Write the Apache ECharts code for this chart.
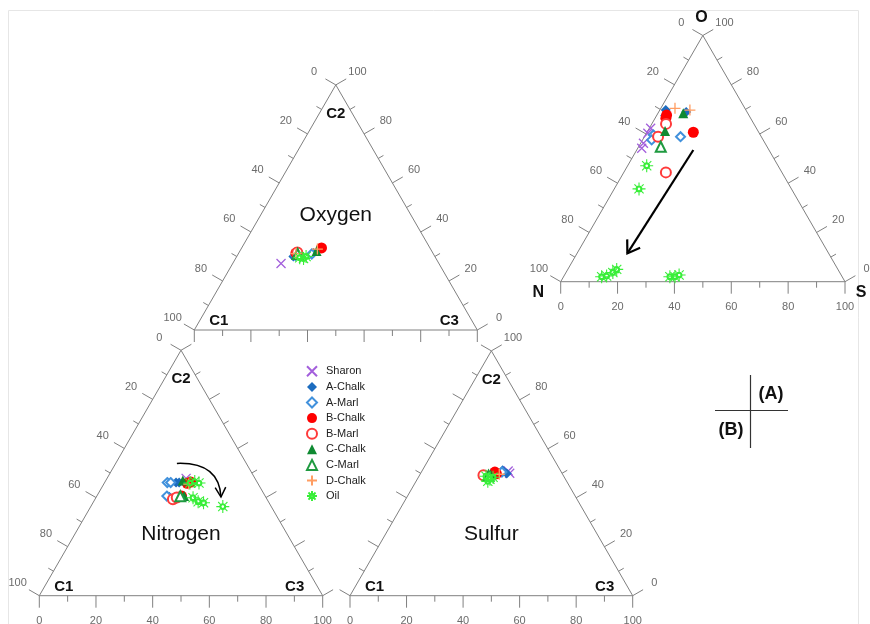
<!DOCTYPE html>
<html><head><meta charset="utf-8">
<script src="https://cdn.jsdelivr.net/npm/echarts@6/dist/echarts.min.js"></script>
<style>html,body{margin:0;padding:0;background:#fff}#c{width:870px;height:624px}</style>
</head><body><div id="c"></div>
<script>
// ---------------- DATA ----------------
const groups = ['Sharon','A-Chalk','A-Marl','B-Chalk','B-Marl','C-Chalk','C-Marl','D-Chalk','Oil'];

// (A) N-O-S diagram, composition [N, O, S] %
const nosPoints = [
  ['Sharon',37.2,62.3,0.5],['Sharon',39.2,60.3,0.5],['Sharon',42.8,56.2,1.0],['Sharon',44.4,54.2,1.4],
  ['A-Chalk',28.2,69.7,2.1],['A-Chalk',21.4,68.9,9.7],['A-Chalk',29.5,67.5,3.0],
  ['A-Marl',28.4,58.9,12.7],['A-Marl',37.6,59.6,2.8],['A-Marl',39.2,57.6,3.2],
  ['B-Chalk',28.9,67.7,3.4],['B-Chalk',29.8,66.4,3.8],['B-Chalk',23.0,60.7,16.3],
  ['B-Marl',30.9,64.1,5.0],['B-Marl',36.3,58.9,4.8],['B-Marl',40.8,44.4,14.8],
  ['C-Chalk',22.7,68.4,8.9],['C-Chalk',32.7,61.2,6.1],
  ['C-Marl',37.4,54.8,7.8],
  ['D-Chalk',24.6,70.4,5.0],['D-Chalk',19.7,69.7,10.6],
  ['Oil',46.2,47.1,6.7],['Oil',53.6,37.7,8.7],['Oil',84.6,2.0,13.4],['Oil',82.7,2.3,15.0],
  ['Oil',79.8,3.7,16.5],['Oil',77.8,5.0,17.2],['Oil',60.6,2.0,37.4],['Oil',58.8,2.0,39.2],['Oil',57.0,2.7,40.3]
];
// Oxygen diagram, composition [C1, C2, C3] %
const oxyPoints = [
  ['Sharon',55.8,27.1,17.1],
  ['A-Chalk',50.0,30.0,20.0],['A-Chalk',42.2,31.4,26.4],
  ['A-Marl',49.0,30.5,20.5],['A-Marl',43.0,31.0,26.0],
  ['B-Chalk',48.4,31.4,20.2],['B-Chalk',38.3,33.5,28.2],
  ['B-Marl',47.8,31.6,20.6],
  ['C-Chalk',47.6,31.8,20.6],['C-Chalk',40.7,32.2,27.1],
  ['C-Marl',48.0,31.0,21.0],
  ['D-Chalk',48.5,31.2,20.3],['D-Chalk',40.0,33.0,27.0],
  ['Oil',46.8,29.2,24.0],['Oil',48.0,29.5,22.5],['Oil',45.5,30.0,24.5]
];
// Nitrogen diagram, composition [C1, C2, C3] %
const nitPoints = [
  ['Sharon',24.3,47.8,27.9],
  ['A-Chalk',28.7,46.1,25.2],['A-Chalk',27.6,46.1,26.3],['A-Chalk',34.0,40.3,25.7],
  ['A-Marl',31.8,46.1,22.1],['A-Marl',30.6,46.1,23.3],['A-Marl',34.7,40.6,24.7],
  ['B-Chalk',24.9,45.8,29.3],['B-Chalk',23.4,46.3,30.3],['B-Chalk',29.5,40.6,29.9],
  ['B-Marl',33.2,39.3,27.5],['B-Marl',31.5,40.0,28.5],
  ['C-Chalk',25.9,46.9,27.2],['C-Chalk',28.6,40.6,30.8],
  ['C-Marl',30.0,40.5,29.5],
  ['D-Chalk',24.5,45.5,30.0],
  ['Oil',23.9,45.9,30.2],['Oil',21.9,46.5,31.6],['Oil',20.7,45.9,33.4],
  ['Oil',25.8,39.9,34.3],['Oil',24.8,38.3,36.9],['Oil',23.1,37.9,39.0],['Oil',17.1,36.3,46.6]
];
// Sulfur diagram, composition [C1, C2, C3] %
const sulPoints = [
  ['Sharon',18.6,50.9,30.5],['Sharon',18.5,50.0,31.5],
  ['A-Chalk',20.4,51.2,28.4],['A-Chalk',19.6,49.9,30.5],
  ['A-Marl',21.0,50.5,28.5],
  ['B-Chalk',23.5,50.5,26.0],['B-Chalk',23.3,49.8,26.9],
  ['B-Marl',28.2,49.2,22.6],
  ['C-Chalk',25.5,49.5,25.0],
  ['C-Marl',26.5,49.0,24.5],
  ['D-Chalk',22.4,49.6,28.0],
  ['Oil',27.5,48.8,23.7],['Oil',26.7,47.6,25.7],['Oil',25.2,48.4,26.4],['Oil',27.9,46.7,25.4]
];
// trend arrows (compositions): (A) start, end ; Nitrogen start, control, end
const arrowNOS = [[26.6,53.5,19.9],[70.8,11.5,17.7]];
const arrowNit = [[24.5,53.9,21.6],[9.3,54.5,36.2],[15.8,40.2,44.0]];
const tickValues = [0,10,20,30,40,50,60,70,80,90,100];

// ---------------- STYLE / LAYOUT ----------------
const SQ = Math.sqrt(3)/2;
const FONT = '"Liberation Sans", Arial, sans-serif';
const X_PATH = 'path://M0,0L10,10M10,0L0,10';
const PLUS_PATH = 'path://M5,0L5,10M0,5L10,5';
const SUN_PATH = 'path://M10,0L10,5.6M10,14.4L10,20M0,10L5.6,10M14.4,10L20,10M2.93,2.93L6.04,6.04M13.96,13.96L17.07,17.07M17.07,2.93L13.96,6.04M6.04,13.96L2.93,17.07M14.4,10A4.4,4.4,0,1,0,5.6,10A4.4,4.4,0,1,0,14.4,10ZM12.9,10A2.9,2.9,0,1,1,7.1,10A2.9,2.9,0,1,1,12.9,10Z';
const gStyle = {
  'Sharon':  {symbol:X_PATH, size:9, color:'#a35fdc', bw:1.3},
  'A-Chalk': {symbol:'diamond', size:10, color:'#1c6cbf'},
  'A-Marl':  {symbol:'emptyDiamond', size:9, color:'#4191dc', bw:1.3},
  'B-Chalk': {symbol:'circle', size:11, color:'#ff0000'},
  'B-Marl':  {symbol:'emptyCircle', size:10, color:'#ff3b3b', bw:1.3},
  'C-Chalk': {symbol:'triangle', size:10, color:'#0f8a32'},
  'C-Marl':  {symbol:'emptyTriangle', size:10, color:'#1f9a40', bw:1.3},
  'D-Chalk': {symbol:PLUS_PATH, size:11, color:'#ff9d62', bw:1.3},
  'Oil':     {symbol:SUN_PATH, size:13, color:'#38ee38', bw:1.1}
};
const panels = [
  {pts:nosPoints, left:560.7, base:281.7, side:284.3, lab:{left:1,right:1,bottom:1}, corners:'NOS'},
  {pts:oxyPoints, left:194.3, base:330.0, side:283.0, lab:{left:1,right:1,bottom:0}, title:'Oxygen', titleY:40.6},
  {pts:nitPoints, left:39.3, base:595.7, side:283.4, lab:{left:1,right:0,bottom:1}, title:'Nitrogen', titleY:21.8},
  {pts:sulPoints, left:350.0, base:595.7, side:282.7, lab:{left:0,right:1,bottom:1}, title:'Sulfur', titleY:21.8}
];

function toXY(c){ const s=c[0]+c[1]+c[2]; const t=c[1]/s*100, r=c[2]/s*100; return [r+t/2, t*SQ]; }

function txt(x,y,text,font,fill){
  return {type:'text', x:x, y:y, style:{text:text, font:font, fill:fill, align:'center', verticalAlign:'middle'}};
}
function ln(a,b,stroke,w){ return {type:'line', shape:{x1:a[0],y1:a[1],x2:b[0],y2:b[1]}, style:{stroke:stroke,lineWidth:w}}; }
function head(E, from, len, ang, w){
  let dx=E[0]-from[0], dy=E[1]-from[1]; const L=Math.hypot(dx,dy); dx/=L; dy/=L;
  const bx=-dx, by=-dy;
  const r = a => [E[0]+len*(bx*Math.cos(a)-by*Math.sin(a)), E[1]+len*(bx*Math.sin(a)+by*Math.cos(a))];
  return {type:'polyline', shape:{points:[r(ang),E,r(-ang)]}, style:{stroke:'#000',lineWidth:w,fill:'none'}};
}

function frameRender(p){
  return function(params, api){
    const P = (x,y)=>api.coord([x,y]);
    const ch = [];
    const gray = '#808080';
    const v0=P(0,0), v1=P(100,0), v2=P(50,100*SQ);
    ch.push(ln(v0,v1,gray,1), ln(v1,v2,gray,1), ln(v2,v0,gray,1));
    tickValues.forEach(v=>{
      const major = v%20===0, len = major?12:6;
      const axes = [
        {k:'left', pt:P((100-v)/2,(100-v)*SQ), n:[-SQ,-0.5]},
        {k:'right', pt:P(100-v/2, v*SQ), n:[SQ,-0.5]},
        {k:'bottom', pt:P(v,0), n:[0,1]}
      ];
      axes.forEach(a=>{
        ch.push(ln(a.pt,[a.pt[0]+a.n[0]*len, a.pt[1]+a.n[1]*len],gray,1));
        if (major && p.lab[a.k]) ch.push(txt(a.pt[0]+a.n[0]*25, a.pt[1]+a.n[1]*25, String(v), '11px '+FONT, '#6b6b6b'));
      });
    });
    const bf = 'bold 15px '+FONT;
    if (p.corners){
      ch.push(txt(v0[0]-22.5, v0[1]+10.5, 'N', 'bold 16px '+FONT, '#111'));
      ch.push(txt(v2[0]-1.5, v2[1]-17.5, 'O', 'bold 16px '+FONT, '#111'));
      ch.push(txt(v1[0]+16, v1[1]+11, 'S', 'bold 16px '+FONT, '#111'));
    } else {
      ch.push(txt(v0[0]+24.5, v0[1]-9.3, 'C1', bf, '#111'));
      ch.push(txt(v2[0], v2[1]+29, 'C2', bf, '#111'));
      ch.push(txt(v1[0]-28, v1[1]-9.3, 'C3', bf, '#111'));
      const tp = P(50, p.titleY);
      ch.push(txt(tp[0], tp[1], p.title, '21px '+FONT, '#111'));
    }
    return {type:'group', children:ch};
  };
}

const grid=[], xAxis=[], yAxis=[], series=[];
panels.forEach((p,i)=>{
  const h = p.side*SQ;
  grid.push({left:p.left, top:p.base-h, width:p.side, height:h, containLabel:false, outerBoundsMode:'none'});
  xAxis.push({gridIndex:i, type:'value', min:0, max:100, show:false});
  yAxis.push({gridIndex:i, type:'value', min:0, max:100*SQ, show:false});
  series.push({type:'custom', xAxisIndex:i, yAxisIndex:i, data:[[0,0]], renderItem:frameRender(p), silent:true, z:1});
  groups.forEach(g=>{
    const s = gStyle[g];
    const data = p.pts.filter(r=>r[0]===g).map(r=>toXY([r[1],r[2],r[3]]));
    series.push({type:'scatter', name:g, xAxisIndex:i, yAxisIndex:i, data:data, symbol:s.symbol, symbolSize:s.size,
      clip:false, z:3, silent:true,
      itemStyle:{color:s.color, borderColor:s.color, borderWidth:s.bw||0, opacity:1}});
  });
});
// arrows
series.push({type:'custom', xAxisIndex:0, yAxisIndex:0, data:[[0,0]], z:4, silent:true,
  renderItem:function(params, api){
    const a=api.coord(toXY(arrowNOS[0])), b=api.coord(toXY(arrowNOS[1]));
    return {type:'group', children:[ln(a,b,'#000',2.2), head(b,a,14,0.58,2.2)]};
  }});
series.push({type:'custom', xAxisIndex:2, yAxisIndex:2, data:[[0,0]], z:4, silent:true,
  renderItem:function(params, api){
    const a=api.coord(toXY(arrowNit[0])), c=api.coord(toXY(arrowNit[1])), b=api.coord(toXY(arrowNit[2]));
    return {type:'group', children:[
      {type:'bezierCurve', shape:{x1:a[0],y1:a[1],cpx1:c[0],cpy1:c[1],x2:b[0],y2:b[1]}, style:{stroke:'#000',lineWidth:1.5,fill:'none'}},
      head(b,c,11,0.5,1.5)]};
  }});

const chart = echarts.init(document.getElementById('c'), null, {renderer:'canvas'});
chart.setOption({
  animation:false,
  backgroundColor:'#fff',
  grid, xAxis, yAxis, series,
  legend:{data:groups, orient:'vertical', left:301, top:358.5, itemWidth:10, itemHeight:10, itemGap:0,
    selectedMode:false, textStyle:{fontSize:11, color:'#222', lineHeight:15.6, fontFamily:FONT, padding:[0,0,0,4]}},
  graphic:[
    {type:'rect', shape:{x:8.5,y:10.5,width:850,height:640}, style:{stroke:'#e6e6e6', fill:'none', lineWidth:1}, silent:true, z:-1},
    {type:'line', shape:{x1:750.5,y1:375,x2:750.5,y2:448}, style:{stroke:'#333',lineWidth:1.2}},
    {type:'line', shape:{x1:715,y1:410.5,x2:788,y2:410.5}, style:{stroke:'#333',lineWidth:1.2}},
    {type:'text', x:771, y:394, style:{text:'(A)', font:'bold 18px '+FONT, fill:'#111', align:'center', verticalAlign:'middle'}},
    {type:'text', x:731, y:430, style:{text:'(B)', font:'bold 18px '+FONT, fill:'#111', align:'center', verticalAlign:'middle'}}
  ]
});
</script></body></html>
